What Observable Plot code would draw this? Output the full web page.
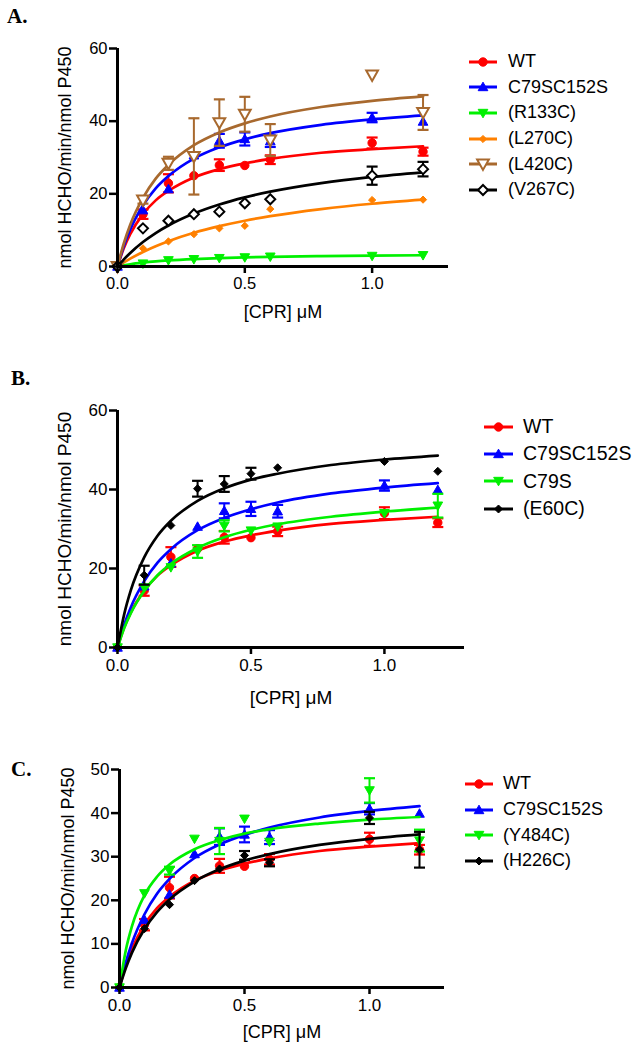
<!DOCTYPE html>
<html>
<head>
<meta charset="utf-8">
<script src="https://cdn.jsdelivr.net/npm/d3@7"></script>
<script src="https://cdn.jsdelivr.net/npm/@observablehq/plot@0.6"></script>
<style>
  body { margin: 0; background: #fff; }
  #root { position: relative; width: 640px; height: 1050px; overflow: hidden; background: #fff;
          font-family: "Liberation Sans", Arial, sans-serif; color: #000; }
  .panel { position: absolute; }
  .plabel { position: absolute; font-family: "Liberation Serif", "DejaVu Serif", serif; font-weight: bold;
            font-size: 21px; line-height: 1; }
  .legend { position: absolute; }
  .legend .row { display: flex; align-items: center; white-space: nowrap; }
  .legend svg { display: block; overflow: visible; }
</style>
</head>
<body>
<div id="root"></div>
<script>
// ---------- data ----------
const conc = [0, 0.1, 0.2, 0.3, 0.4, 0.5, 0.6, 1.0, 1.2];          // [CPR] µM of measured points
const fitConc = [0, 0.025, 0.05, 0.1, 0.15, 0.2, 0.3, 0.4, 0.5, 0.6, 0.8, 1.0, 1.2]; // x of fitted curve read-outs

const xTicks = [0, 0.5, 1.0];
const yTicksAB = [0, 20, 40, 60];
const yTicksC = [0, 10, 20, 30, 40, 50];
const panelNames = ["A.", "B.", "C."];
const xLabel = "[CPR] \u03bcM";
const yLabel = "nmol HCHO/min/nmol P450";

// WT
const wtMean = [0, 14.4, 22.9, 25.0, 27.9, 27.8, 29.4, 34.0, 31.6];
const wtErr  = [0, 1.3, 2.5, 0, 1.6, 0, 1.2, 1.5, 1.1];
const wtFit  = [0, 5.1, 8.9, 14.4, 18.2, 20.8, 24.5, 26.8, 28.4, 29.6, 31.3, 32.3, 33.1];
// C79SC152S
const dmMean = [0, 15.5, 21.3, 30.6, 34.6, 35.1, 34.5, 41.0, 39.9];
const dmErr  = [0, 0, 0, 0, 1.9, 1.8, 1.6, 1.3, 0];
const dmFit  = [0, 5.7, 10.2, 16.8, 21.5, 24.9, 29.7, 32.8, 35.0, 36.7, 39.0, 40.5, 41.6];
// (R133C)
const r133Mean = [0, 0.8, 1.7, 2.0, 2.3, 2.5, 2.7, 2.9, 3.1];
const r133Err  = [0, 0, 0, 0, 0, 0, 0, 0, 0];
const r133Fit  = [0, 0.34, 0.63, 1.07, 1.41, 1.67, 2.05, 2.31, 2.50, 2.65, 2.85, 3.00, 3.10];
// (L270C)
const l270Mean = [0, 5.0, 6.9, 8.9, 10.5, 11.2, 15.8, 18.3, 18.4];
const l270Err  = [0, 0, 0, 0, 0, 0, 0, 0, 0];
const l270Fit  = [0, 1.12, 2.15, 3.99, 5.58, 6.96, 9.27, 11.1, 12.6, 13.85, 15.8, 17.27, 18.4];
// (L420C)
const l420Mean = [0, 18.3, 28.4, 30.3, 39.6, 41.9, 34.8, 52.7, 42.4];
const l420Err  = [0, 1.0, 1.8, 10.5, 6.4, 4.8, 4.4, 0, 4.8];
const l420Fit  = [0, 6.4, 11.5, 18.9, 24.2, 28.0, 33.4, 36.9, 39.4, 41.3, 43.9, 45.6, 46.8];
// (V267C)
const v267Mean = [0, 10.5, 12.6, 14.4, 15.1, 17.4, 18.5, 25.0, 26.8];
const v267Err  = [0, 0, 0, 0, 0, 0, 0, 2.5, 2.0];
const v267Fit  = [0, 1.97, 3.72, 6.73, 9.21, 11.29, 14.58, 17.07, 19.02, 20.59, 22.95, 24.65, 25.93];
// C79S
const c79Mean = [0, 15.2, 20.3, 24.3, 30.8, 29.6, 30.6, 34.0, 35.9];
const c79Err  = [0, 0, 0, 1.6, 1.4, 0, 0, 0, 3.0];
const c79Fit  = [0, 4.9, 8.7, 14.3, 18.3, 21.2, 25.2, 27.9, 29.8, 31.2, 33.1, 34.4, 35.4];
// (E60C)
const e60Mean = [0, 18.3, 30.9, 40.2, 41.4, 44.0, 45.5, 47.1, 44.6];
const e60Err  = [0, 2.4, 0, 2.0, 2.0, 1.5, 0, 0, 0];
const e60Fit  = [0, 8.4, 14.5, 22.8, 28.3, 32.1, 37.1, 40.3, 42.5, 44.0, 46.2, 47.6, 48.6];
// (Y484C)
const y484Mean = [0, 21.6, 26.8, 34.1, 33.6, 38.7, 33.4, 45.2, 33.7];
const y484Err  = [0, 0, 0.9, 0, 3.0, 0, 0, 2.8, 2.5];
const y484Fit  = [0, 8.5, 14.1, 21.2, 25.4, 28.2, 31.7, 33.8, 35.3, 36.3, 37.6, 38.5, 39.1];
// (H226C)
const h226Mean = [0, 13.5, 19.0, 24.5, 27.2, 30.3, 28.6, 38.9, 31.6];
const h226Err  = [0, 0, 0, 0, 0, 1.0, 0.8, 1.4, 4.1];
const h226Fit  = [0, 4.4, 8.0, 13.4, 17.3, 20.2, 24.3, 27.1, 29.1, 30.6, 32.7, 34.1, 35.1];

// ---------- styles ----------
const styles = {
  "WT":        {color: "#ff0000", marker: "circle",  r: 4.2, open: false},
  "C79SC152S": {color: "#0000ff", marker: "up",      r: 4.6, open: false},
  "(R133C)":   {color: "#00f000", marker: "down",    r: 4.6, open: false},
  "(L270C)":   {color: "#ff8000", marker: "diamond", r: 3.6, open: false},
  "(L420C)":   {color: "#a8692e", marker: "down",    r: 5.6, open: true},
  "(V267C)":   {color: "#000000", marker: "diamond", r: 5.0, open: true},
  "C79S":      {color: "#00f000", marker: "down",    r: 4.6, open: false},
  "(E60C)":    {color: "#000000", marker: "diamond", r: 4.0, open: false},
  "(Y484C)":   {color: "#00f000", marker: "down",    r: 4.6, open: false},
  "(H226C)":   {color: "#000000", marker: "diamond", r: 4.0, open: false}
};

const symbols = {
  circle: "circle",
  up: {draw(c, size) { const r = Math.sqrt(size / Math.PI);
        c.moveTo(0, -r * 1.05); c.lineTo(r * 1.05, r * 0.8); c.lineTo(-r * 1.05, r * 0.8); c.closePath(); }},
  down: {draw(c, size) { const r = Math.sqrt(size / Math.PI);
        c.moveTo(0, r * 1.05); c.lineTo(r * 1.05, -r * 0.8); c.lineTo(-r * 1.05, -r * 0.8); c.closePath(); }},
  diamond: {draw(c, size) { const r = Math.sqrt(size / Math.PI);
        c.moveTo(0, -r); c.lineTo(r, 0); c.lineTo(0, r); c.lineTo(-r, 0); c.closePath(); }},
  cap: {draw(c, size) { const r = Math.sqrt(size / Math.PI);
        c.moveTo(-r, 0); c.lineTo(r, 0); }}
};

const panels = [
  {name: panelNames[0], top: 0, width: 460, marginLeft: 117, marginRight: 12, marginTop: 48, innerH: 218,
   yDomain: [0, 60], yTicks: yTicksAB, tickFont: 16.5, labelFont: 18, xLabelOffset: 51, yLabelOffset: 59,
   labelPos: {left: 7, top: 6},
   legend: {left: 469, top: 49, rowH: 25.6, lineW: 28, gap: 11, font: 18},
   series: [
     ["WT", wtMean, wtErr, wtFit],
     ["C79SC152S", dmMean, dmErr, dmFit],
     ["(R133C)", r133Mean, r133Err, r133Fit],
     ["(L270C)", l270Mean, l270Err, l270Fit],
     ["(L420C)", l420Mean, l420Err, l420Fit],
     ["(V267C)", v267Mean, v267Err, v267Fit]
   ]},
  {name: panelNames[1], top: 362, width: 480, marginLeft: 117, marginRight: 16, marginTop: 48, innerH: 237,
   yDomain: [0, 60], yTicks: yTicksAB, tickFont: 17, labelFont: 19, xLabelOffset: 56, yLabelOffset: 60,
   labelPos: {left: 11, top: 368},
   legend: {left: 484, top: 413, rowH: 27.3, lineW: 29, gap: 10, font: 19.5},
   series: [
     ["WT", wtMean, wtErr, wtFit],
     ["C79SC152S", dmMean, dmErr, dmFit],
     ["C79S", c79Mean, c79Err, c79Fit],
     ["(E60C)", e60Mean, e60Err, e60Fit]
   ]},
  {name: panelNames[2], top: 721, width: 460, marginLeft: 119, marginRight: 16, marginTop: 48, innerH: 218,
   yDomain: [0, 50], yTicks: yTicksC, tickFont: 17, labelFont: 18, xLabelOffset: 50, yLabelOffset: 58,
   labelPos: {left: 11, top: 759},
   legend: {left: 465, top: 771, rowH: 25.7, lineW: 28, gap: 10, font: 18},
   series: [
     ["WT", wtMean, wtErr, wtFit],
     ["C79SC152S", dmMean, dmErr, dmFit],
     ["(Y484C)", y484Mean, y484Err, y484Fit],
     ["(H226C)", h226Mean, h226Err, h226Fit]
   ]}
];

const root = document.getElementById("root");

function markerSvg(st, cx, cy) {
  const r = st.r;
  const fill = st.open ? "#fff" : st.color;
  const sw = st.open ? 2 : 1;
  let shape;
  if (st.marker === "circle") shape = `<circle cx="${cx}" cy="${cy}" r="${r}" />`;
  else {
    const path = d3.path();
    symbols[st.marker].draw(path, r * r * Math.PI);
    shape = `<path transform="translate(${cx},${cy})" d="${path.toString()}" />`;
  }
  return `<g fill="${fill}" stroke="${st.color}" stroke-width="${sw}">${shape}</g>`;
}

for (const p of panels) {
  const height = p.marginTop + p.innerH + 60;
  const marks = [];
  for (const [name, mean, err, fit] of p.series) {
    const st = styles[name];
    const pts = conc.map((x, i) => ({x, y: mean[i], e: err[i]}));
    const eb = pts.filter(d => d.e > 0);
    const fitPts = fitConc.map((x, i) => ({x, y: fit[i]}));
    marks.push(Plot.line(fitPts, {x: "x", y: "y", stroke: st.color, strokeWidth: 2.7, curve: "monotone-x"}));
    marks.push(Plot.ruleX(eb, {x: "x", y1: d => d.y - d.e, y2: d => d.y + d.e, stroke: st.color, strokeWidth: 2}));
    marks.push(Plot.dot(eb, {x: "x", y: d => d.y + d.e, symbol: symbols.cap, r: 5.5, stroke: st.color, strokeWidth: 2.2, fill: "none"}));
    marks.push(Plot.dot(eb, {x: "x", y: d => d.y - d.e, symbol: symbols.cap, r: 5.5, stroke: st.color, strokeWidth: 2.2, fill: "none"}));
    marks.push(Plot.dot(pts, {x: "x", y: "y", symbol: symbols[st.marker], r: st.r,
      fill: st.open ? "#fff" : st.color, stroke: st.color, strokeWidth: st.open ? 2 : 1}));
  }
  marks.push(Plot.axisY(p.yTicks, {tickSize: 8, tickPadding: 2, strokeWidth: 2.5, fontSize: p.tickFont,
    label: null}));
  marks.push(Plot.axisX(xTicks, {tickSize: 7, tickPadding: 4, strokeWidth: 2.5, fontSize: p.tickFont,
    tickFormat: d3.format(".1f"), label: null}));
  marks.push(Plot.axisY({ticks: [], tickSize: 0, label: yLabel, labelAnchor: "center", labelOffset: p.yLabelOffset,
    labelArrow: "none", fontSize: p.labelFont}));
  marks.push(Plot.axisX({ticks: [], tickSize: 0, label: xLabel, labelAnchor: "center", labelOffset: p.xLabelOffset,
    labelArrow: "none", fontSize: p.labelFont}));
  marks.push(Plot.ruleX([0], {strokeWidth: 3}));
  marks.push(Plot.ruleY([0], {strokeWidth: 3}));

  const chart = Plot.plot({
    width: p.width, height,
    marginLeft: p.marginLeft, marginRight: p.marginRight, marginTop: p.marginTop, marginBottom: 60,
    x: {domain: [0, 1.3]},
    y: {domain: p.yDomain},
    style: {fontFamily: "'Liberation Sans', Arial, sans-serif", color: "#000", background: "#fff", overflow: "visible"},
    marks
  });
  chart.classList.add("panel");
  chart.style.left = "0px";
  chart.style.top = p.top + "px";
  root.appendChild(chart);

  const lab = document.createElement("div");
  lab.className = "plabel";
  lab.textContent = p.name;
  lab.style.left = p.labelPos.left + "px";
  lab.style.top = p.labelPos.top + "px";
  root.appendChild(lab);

  const lg = document.createElement("div");
  lg.className = "legend";
  lg.style.left = p.legend.left + "px";
  lg.style.top = p.legend.top + "px";
  lg.style.fontSize = p.legend.font + "px";
  for (const [name] of p.series) {
    const st = styles[name];
    const row = document.createElement("div");
    row.className = "row";
    row.style.height = p.legend.rowH + "px";
    const w = p.legend.lineW;
    row.innerHTML = `<svg width="${w}" height="14"><line x1="0" x2="${w}" y1="7" y2="7" stroke="${st.color}" stroke-width="3"/>${markerSvg(st, w / 2, 7)}</svg><span style="margin-left:${p.legend.gap}px">${name}</span>`;
    lg.appendChild(row);
  }
  root.appendChild(lg);
}
</script>
</body>
</html>
